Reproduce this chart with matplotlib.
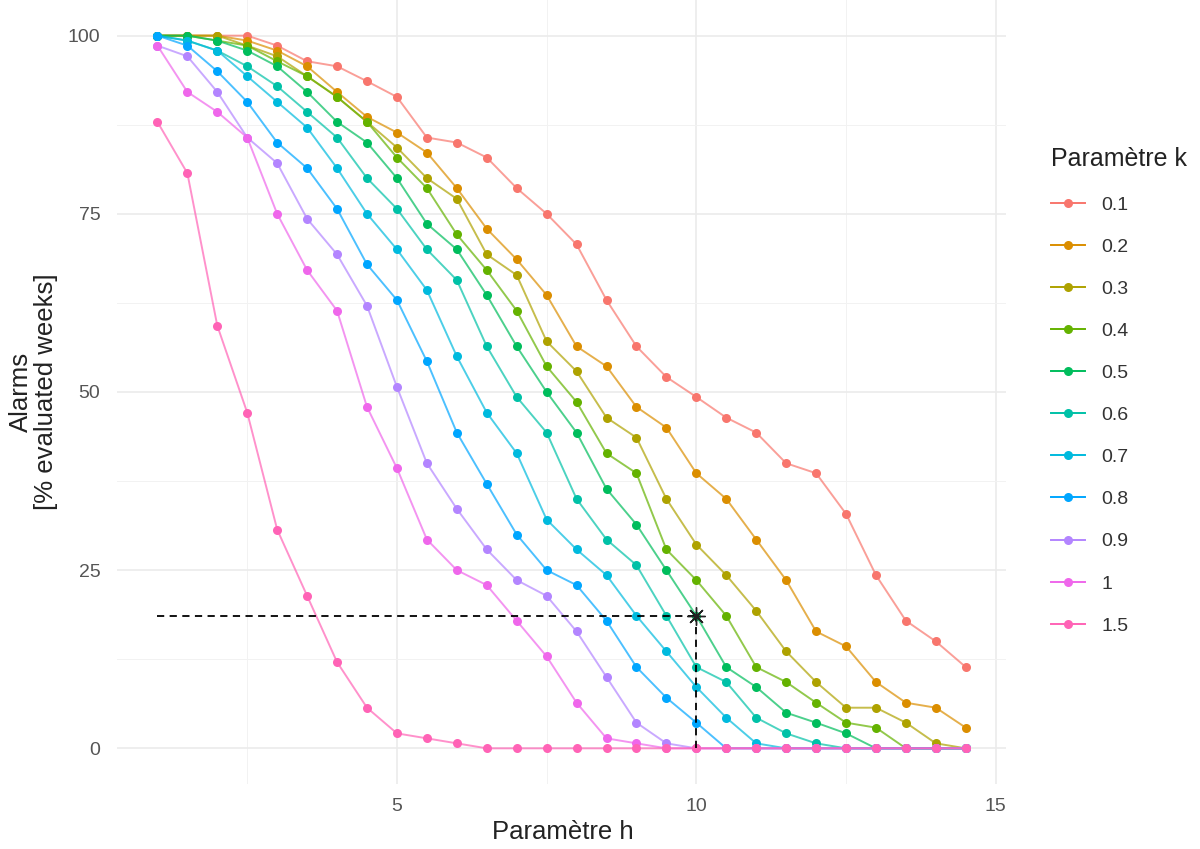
import matplotlib
matplotlib.use("Agg")
import matplotlib.pyplot as plt
from matplotlib.ticker import MultipleLocator

plt.rcParams['font.family'] = ['Liberation Sans', 'DejaVu Sans']

# parameter h (x axis)
h = [1, 1.5, 2, 2.5, 3, 3.5, 4, 4.5, 5, 5.5, 6, 6.5, 7, 7.5,
     8, 8.5, 9, 9.5, 10, 10.5, 11, 11.5, 12, 12.5, 13, 13.5, 14, 14.5]

k_labels = ['0.1', '0.2', '0.3', '0.4', '0.5', '0.6', '0.7', '0.8', '0.9', '1', '1.5']

# alarms, % of evaluated weeks, one list per k
alarms_01 = [100, 100, 100, 100, 98.6, 96.4, 95.7, 93.6, 91.4, 85.7, 85.0, 82.9, 78.6, 75.0,
             70.7, 62.9, 56.4, 52.1, 49.3, 46.4, 44.3, 40.0, 38.6, 32.9, 24.3, 17.9, 15.0, 11.4]
alarms_02 = [100, 100, 100, 99.3, 97.9, 95.7, 92.1, 88.6, 86.4, 83.6, 78.6, 72.9, 68.6, 63.6,
             56.4, 53.6, 47.9, 45.0, 38.6, 35.0, 29.3, 23.6, 16.4, 14.3, 9.3, 6.4, 5.7, 2.9]
alarms_03 = [100, 100, 100, 98.6, 97.1, 94.3, 91.4, 87.9, 84.3, 80.0, 77.1, 69.3, 66.4, 57.1,
             52.9, 46.4, 43.6, 35.0, 28.6, 24.3, 19.3, 13.6, 9.3, 5.7, 5.7, 3.6, 0.7, 0]
alarms_04 = [100, 100, 99.3, 98.6, 96.4, 94.3, 91.4, 87.9, 82.9, 78.6, 72.1, 67.1, 61.4, 53.6,
             48.6, 41.4, 38.6, 27.9, 23.6, 18.6, 11.4, 9.3, 6.4, 3.6, 2.9, 0, 0, 0]
alarms_05 = [100, 100, 99.3, 97.9, 95.7, 92.1, 87.9, 85.0, 80.0, 73.6, 70.0, 63.6, 56.4, 50.0,
             44.3, 36.4, 31.4, 25.0, 18.6, 11.4, 8.6, 5.0, 3.6, 2.1, 0, 0, 0, 0]
alarms_06 = [100, 99.3, 97.9, 95.7, 92.9, 89.3, 85.7, 80.0, 75.7, 70.0, 65.7, 56.4, 49.3, 44.3,
             35.0, 29.3, 25.7, 18.6, 11.4, 9.3, 4.3, 2.1, 0.7, 0, 0, 0, 0, 0]
alarms_07 = [100, 99.3, 97.9, 94.3, 90.7, 87.1, 81.4, 75.0, 70.0, 64.3, 55.0, 47.1, 41.4, 32.1,
             27.9, 24.3, 18.6, 13.6, 8.6, 4.3, 0.7, 0, 0, 0, 0, 0, 0, 0]
alarms_08 = [100, 98.6, 95.0, 90.7, 85.0, 81.4, 75.7, 67.9, 62.9, 54.3, 44.3, 37.1, 30.0, 25.0,
             22.9, 17.9, 11.4, 7.1, 3.6, 0, 0, 0, 0, 0, 0, 0, 0, 0]
alarms_09 = [98.6, 97.1, 92.1, 85.7, 82.1, 74.3, 69.3, 62.1, 50.7, 40.0, 33.6, 27.9, 23.6, 21.4,
             16.4, 10.0, 3.6, 0.7, 0, 0, 0, 0, 0, 0, 0, 0, 0, 0]
alarms_10 = [98.6, 92.1, 89.3, 85.7, 75.0, 67.1, 61.4, 47.9, 39.3, 29.3, 25.0, 22.9, 17.9, 12.9,
             6.4, 1.4, 0.7, 0, 0, 0, 0, 0, 0, 0, 0, 0, 0, 0]
alarms_15 = [87.9, 80.7, 59.3, 47.1, 30.7, 21.4, 12.1, 5.7, 2.1, 1.4, 0.7, 0, 0, 0,
             0, 0, 0, 0, 0, 0, 0, 0, 0, 0, 0, 0, 0, 0]

series = [alarms_01, alarms_02, alarms_03, alarms_04, alarms_05, alarms_06,
          alarms_07, alarms_08, alarms_09, alarms_10, alarms_15]

# chosen operating point
sel_h = 10
sel_alarm = 18.6

# ggplot hue palette, 11 levels
colors = ['#F8766D', '#DB8E00', '#AEA200', '#64B200', '#00BD5C', '#00C1A7',
          '#00BADE', '#00A6FF', '#B385FF', '#EF67EB', '#FF63B6']

fig = plt.figure(figsize=(12, 8.49), dpi=100)
ax = fig.add_axes([0.0975, 0.0766, 0.741, 0.9234])

for vals, col, lab in zip(series, colors, k_labels):
    ax.plot(h, vals, color=col, lw=1.4, alpha=0.7, zorder=3)
    ax.plot(h, vals, ls='none', marker='o', ms=6.5, mec='none', mfc=col, zorder=4)
    ax.plot([], [], color=col, lw=1.4, marker='o', ms=6.5, mec='none', mfc=col, label=lab)

ax.plot([h[0], sel_h], [sel_alarm, sel_alarm], color='black', lw=1.3, dashes=(4, 3), zorder=5)
ax.plot([sel_h, sel_h], [0, sel_alarm], color='black', lw=1.3, dashes=(4, 3), zorder=5)
ax.plot([sel_h], [sel_alarm], ls='none', marker=(8, 2, 0), ms=13, mec='#222222', mew=1.0, zorder=6)

ax.set_xlim(0.325, 15.175)
ax.set_ylim(-5, 105)
ax.xaxis.set_major_locator(MultipleLocator(5))
ax.xaxis.set_minor_locator(MultipleLocator(2.5))
ax.yaxis.set_major_locator(MultipleLocator(25))
ax.yaxis.set_minor_locator(MultipleLocator(12.5))
ax.grid(which='major', color='#EBEBEB', lw=1.2, zorder=0)
ax.grid(which='minor', color='#F2F2F2', lw=0.7, zorder=0)
ax.set_axisbelow(True)
for s in ax.spines.values():
    s.set_visible(False)
ax.tick_params(which='both', length=0, labelsize=14, labelcolor='#555555')
ax.tick_params(axis='x', pad=10)
ax.tick_params(axis='y', pad=12)

fig.text(0.469, 0.02, 'Paramètre h', ha='center', va='center', fontsize=18.5, color='#222222')
fig.text(0.028, 1 - 392 / 849, 'Alarms\n[% evaluated weeks]', rotation=90, ha='center',
         va='center', multialignment='center', fontsize=18.5, color='#222222', linespacing=1.05)

leg = fig.legend(loc='upper left', bbox_to_anchor=(0.8613, 0.847), frameon=False,
                 title='Paramètre k', fontsize=14, title_fontsize=18,
                 handlelength=1.75, handletextpad=0.85, labelspacing=1.26,
                 alignment='left')
for t in leg.get_texts():
    t.set_color('#333333')
leg.get_title().set_color('#222222')

fig.savefig('out.png', dpi=100, facecolor='white')
